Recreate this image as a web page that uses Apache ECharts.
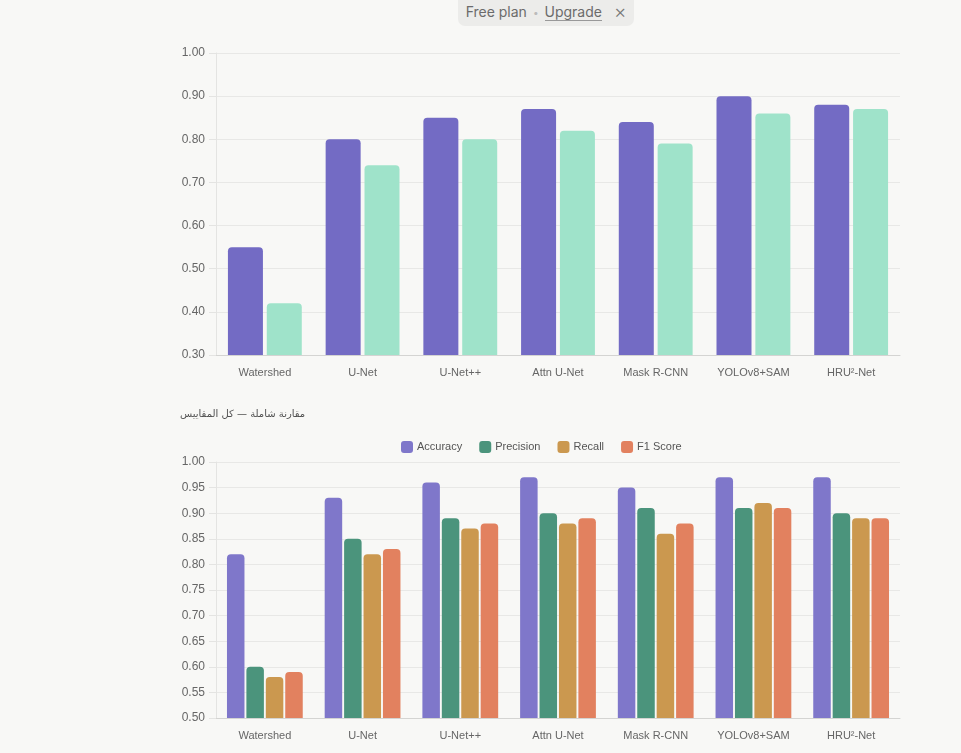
<!DOCTYPE html>
<html lang="en">
<head>
    <meta charset="UTF-8">
    <title>Model comparison</title>
    <script src="https://cdn.jsdelivr.net/npm/echarts@6/dist/echarts.min.js"></script>
    <style>
        html, body { margin: 0; padding: 0; background: #f8f8f6; }
        #chart { width: 961px; height: 753px; }
        #plan {
            position: absolute; left: 458px; top: -6px; width: 176px; height: 32px;
            background: #ececea; border-radius: 7px;
            font-family: Inter, "Open Sans", sans-serif; font-size: 14px; color: #6b6b6b;
            display: flex; align-items: center; justify-content: center; gap: 6px; padding-top: 3px;
            box-sizing: border-box;
        }
        #plan u { text-decoration: none; border-bottom: 1px solid #999; }
        #plan .dot { color: #bbb; font-size: 10px; }
        #plan .x { margin-left: 6px; font-size: 19px; font-weight: 300; color: #777; }
    </style>
</head>
<body>
    <div id="chart"></div>
    <div id="plan"><span>Free plan</span><span class="dot">•</span><u>Upgrade</u><span class="x">×</span></div>

    <script>
        var models = ['Watershed', 'U-Net', 'U-Net++', 'Attn U-Net', 'Mask R-CNN', 'YOLOv8+SAM', 'HRU²-Net'];

        // top chart: two series
        var topAccuracy = [0.55, 0.80, 0.85, 0.87, 0.84, 0.90, 0.88];
        var topSecond = [0.42, 0.74, 0.80, 0.82, 0.79, 0.86, 0.87];

        // bottom chart: all metrics
        var accuracy = [0.82, 0.93, 0.96, 0.97, 0.95, 0.97, 0.97];
        var precision = [0.60, 0.85, 0.89, 0.90, 0.91, 0.91, 0.90];
        var recall = [0.58, 0.82, 0.87, 0.88, 0.86, 0.92, 0.89];
        var f1 = [0.59, 0.83, 0.88, 0.89, 0.88, 0.91, 0.89];

        var chart = echarts.init(document.getElementById('chart'));
        var font = '"Liberation Sans", Arial, sans-serif';

        function yAxis(idx, min, interval) {
            return {
                type: 'value', gridIndex: idx, min: min, max: 1, interval: interval,
                axisLine: { show: true, lineStyle: { color: '#e4e4e2' } },
                axisTick: { show: true, length: 7, lineStyle: { color: '#e4e4e2' } },
                splitLine: { lineStyle: { color: '#e8e8e6' } },
                axisLabel: { color: '#666', fontSize: 12, fontFamily: font, margin: 11,
                    formatter: function (v) { return v.toFixed(2); } }
            };
        }
        function xAxis(idx) {
            return {
                type: 'category', gridIndex: idx, data: models,
                axisLine: { lineStyle: { color: '#d4d4d2' } },
                axisTick: { show: false },
                axisLabel: { color: '#666', fontSize: 11, fontFamily: font, margin: 12 }
            };
        }
        function bar(name, data, color, idx, width, gap) {
            return {
                name: name, type: 'bar', xAxisIndex: idx, yAxisIndex: idx, data: data,
                barWidth: width, barGap: gap,
                itemStyle: { color: color, borderRadius: [4, 4, 0, 0] }
            };
        }

        chart.setOption({
            backgroundColor: '#f8f8f6',
            animation: false,
            title: {
                text: 'مقارنة شاملة — كل المقاييس',
                left: 175, top: 404,
                textStyle: { fontSize: 10, fontWeight: 'normal', color: '#505050', fontFamily: '"DejaVu Sans", sans-serif' }
            },
            legend: {
                data: ['Accuracy', 'Precision', 'Recall', 'F1 Score'],
                top: 441, left: 401, padding: 0, itemWidth: 12, itemHeight: 12, itemGap: 17,
                icon: 'roundRect',
                textStyle: { color: '#555', fontSize: 11, fontFamily: font, padding: [0, 0, 0, -1] }
            },
            grid: [
                { left: 216, right: 61, top: 53, height: 302 },
                { left: 216, right: 61, top: 462, height: 256 }
            ],
            xAxis: [xAxis(0), xAxis(1)],
            yAxis: [yAxis(0, 0.3, 0.1), yAxis(1, 0.5, 0.05)],
            series: [
                bar('Top Accuracy', topAccuracy, '#736bc4', 0, 35, '11%'),
                bar('Top Second', topSecond, '#9fe3ca', 0, 35, '11%'),
                bar('Accuracy', accuracy, '#7f77ca', 1, 17.5, '11%'),
                bar('Precision', precision, '#4b947c', 1, 17.5, '11%'),
                bar('Recall', recall, '#cb984f', 1, 17.5, '11%'),
                bar('F1 Score', f1, '#e2815f', 1, 17.5, '11%')
            ]
        });
    </script>
</body>
</html>
